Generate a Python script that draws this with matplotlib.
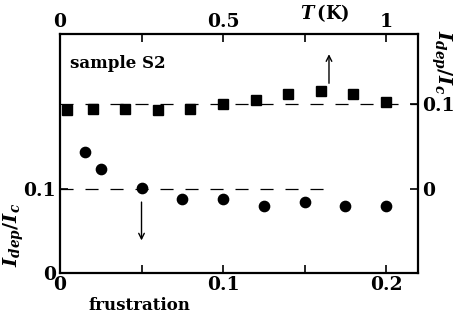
import matplotlib
matplotlib.use("Agg")
import matplotlib.pyplot as plt

plt.rcParams['font.family'] = ['DejaVu Serif']
plt.rcParams['font.weight'] = 'bold'
plt.rcParams['mathtext.fontset'] = 'dejavuserif'
plt.rcParams['lines.scale_dashes'] = False

# frustration data (bottom / left axes)
frustration = [0.0153, 0.025, 0.05, 0.075, 0.1, 0.125, 0.15, 0.175, 0.2]
idep_frus = [0.1437, 0.1235, 0.1016, 0.088, 0.088, 0.0798, 0.084, 0.080, 0.080]

# temperature data (top / right axes)
temperature = [0.02, 0.1, 0.2, 0.3, 0.4, 0.5, 0.6, 0.7, 0.8, 0.9, 1.0]
idep_temp = [0.0924, 0.0944, 0.0944, 0.0924, 0.0944, 0.0994, 0.105, 0.111, 0.115, 0.112, 0.102]

bottom_ticks = [0, 0.1, 0.2]
bottom_labels = ['0', '0.1', '0.2']
left_ticks = [0, 0.1]
left_labels = ['0', '0.1']
top_ticks = [0, 0.5, 1]
top_labels = ['0', '0.5', '1']
right_ticks = [0, 0.1]
right_labels = ['0', '0.1']

W, H = 455, 325
fig = plt.figure(figsize=(W / 100, H / 100), dpi=100)
x0, x1, y0, y1 = 60, 418, 273.3, 33.5
pos = [x0 / W, 1 - y0 / H, (x1 - x0) / W, (y0 - y1) / H]

ax = fig.add_axes(pos)
ax.set_xlim(0, 0.2196)
ax.set_ylim(0, 0.2845)
ax.set_xticks(bottom_ticks)
ax.set_xticklabels(bottom_labels)
ax.set_xticks([0.05, 0.15], minor=True)
ax.set_yticks(left_ticks)
ax.set_yticklabels(left_labels)
ax.tick_params(which='both', direction='in', top=False, right=False, labelsize=13.5, width=1.2)
ax.tick_params(which='major', length=6)
ax.tick_params(which='minor', length=6)
ax.tick_params(axis='x', pad=2)
ax.tick_params(axis='y', pad=3)
for s in ax.spines.values():
    s.set_linewidth(1.6)

ax.plot(frustration, idep_frus, 'o', color='black', markersize=7.4)
ax.plot([0, 0.164], [0.1, 0.1], color='black', lw=0.9, dashes=[9.4, 8.6])
ax.annotate('', xy=(0.05, 0.039), xytext=(0.05, 0.0845),
            arrowprops=dict(arrowstyle='->', color='black', lw=1.0, shrinkA=0, shrinkB=0))

ax2 = fig.add_axes(pos, frameon=False)
ax2.set_xlim(0, 1.098)
ax2.set_ylim(-(273.3 - 189.3) / 855, (189.3 - 33.5) / 855)
ax2.xaxis.tick_top()
ax2.yaxis.tick_right()
ax2.set_xticks(top_ticks)
ax2.set_xticklabels(top_labels)
ax2.set_xticks([0.25, 0.75], minor=True)
ax2.set_yticks(right_ticks)
ax2.set_yticklabels(right_labels)
ax2.tick_params(which='both', direction='in', labelsize=13.5, width=1.2, length=6)
ax2.tick_params(axis='x', pad=2)
ax2.tick_params(axis='y', pad=3)

ax2.plot(temperature, idep_temp, 's', color='black', markersize=7.4, clip_on=True)
ax2.plot([0, 1.098], [0.1, 0.1], color='black', lw=0.9, dashes=[9.4, 8.6])
ax2.annotate('', xy=(0.825, 0.158), xytext=(0.825, 0.124),
             arrowprops=dict(arrowstyle='->', color='black', lw=1.0, shrinkA=0, shrinkB=0))

fig.text(70 / W, 1 - 63 / H, 'sample S2', fontsize=12, fontweight='bold', va='center', ha='left')
fig.text(139 / W, 1 - 306 / H, 'frustration', fontsize=12, fontweight='bold', va='center', ha='center')
fig.text(325 / W, 1 - 13 / H, r'$T\,$(K)', fontsize=13, fontweight='bold', va='center', ha='center')
fig.text(14 / W, 1 - 235 / H, r'$I_{dep}/I_c$', fontsize=14, rotation=90, va='center', ha='center')
fig.text(441 / W, 1 - 62 / H, r'$I_{dep}/I_c$', fontsize=14, rotation=-90, va='center', ha='center')

fig.savefig('out.png', dpi=100)
